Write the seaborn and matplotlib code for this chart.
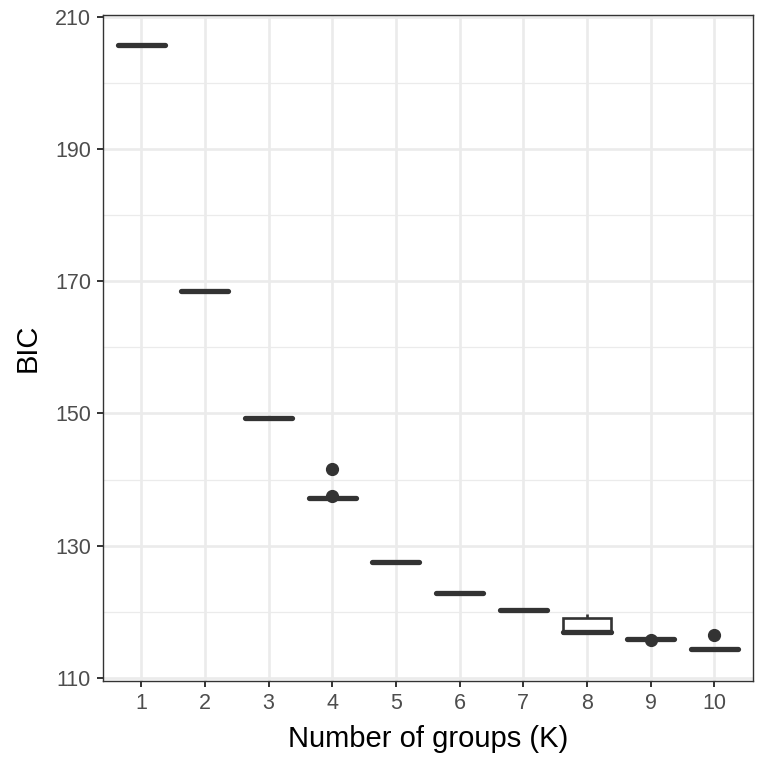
import matplotlib.pyplot as plt
import numpy as np
import pandas as pd
import seaborn as sns

# BIC values from repeated runs for each number of groups K
k_labels = ["1", "2", "3", "4", "5", "6", "7", "8", "9", "10"]
bic_k1 = [205.8] * 10
bic_k2 = [168.6] * 10
bic_k3 = [149.3] * 10
bic_k4 = [137.2] * 8 + [137.5, 141.6]
bic_k5 = [127.5] * 10
bic_k6 = [122.8] * 10
bic_k7 = [120.3] * 10
bic_k8 = [116.8] * 4 + [116.9, 116.9, 118.9, 119.0, 119.3, 119.6]
bic_k9 = [115.9] * 9 + [115.7]
bic_k10 = [114.4] * 9 + [116.5]

y_ticks = [110, 130, 150, 170, 190, 210]
y_minor = [120, 140, 160, 180, 200]

all_runs = [bic_k1, bic_k2, bic_k3, bic_k4, bic_k5,
            bic_k6, bic_k7, bic_k8, bic_k9, bic_k10]
df = pd.DataFrame({
    'K': np.repeat(k_labels, [len(r) for r in all_runs]),
    'BIC': np.concatenate(all_runs),
})

sns.set_theme(style='white')
plt.rcParams['font.family'] = ['Liberation Sans', 'DejaVu Sans']

fig = plt.figure(figsize=(7.68, 7.68), dpi=100)
ax = fig.add_axes([0.134, 0.113, 0.846, 0.867])

dark = '#333333'
sns.boxplot(data=df, x='K', y='BIC', order=k_labels, ax=ax,
            color='white', linecolor=dark, linewidth=1.9, width=0.74,
            showcaps=False, whis=1.5,
            medianprops={'linewidth': 3.8, 'color': dark,
                         'solid_capstyle': 'round'},
            flierprops={'marker': 'o', 'markerfacecolor': dark,
                        'markeredgecolor': dark, 'markersize': 8.5})

# Grid like theme_bw
ax.set_ylim(109.45, 210.3)
ax.set_xlim(-0.6, 9.6)
ax.set_yticks(y_ticks)
ax.set_yticks(y_minor, minor=True)
ax.grid(True, which='major', color='#EBEBEB', linewidth=1.9)
ax.yaxis.grid(True, which='minor', color='#EBEBEB', linewidth=0.9)
ax.set_axisbelow(True)

for s in ax.spines.values():
    s.set_color(dark)
    s.set_linewidth(1.0)

ax.tick_params(axis='both', which='major', length=4.5, width=1.4,
               color=dark, labelcolor='#4D4D4D', labelsize=15.5, pad=2,
               left=True, bottom=True)
ax.tick_params(axis='x', which='major', pad=4)
ax.tick_params(axis='y', which='major', pad=4)
ax.tick_params(axis='y', which='minor', length=0)

ax.set_xlabel('Number of groups (K)', fontsize=21, color='black', labelpad=8)
ax.set_ylabel('BIC', fontsize=21, color='black', labelpad=10)

plt.savefig('out.png', dpi=100)
